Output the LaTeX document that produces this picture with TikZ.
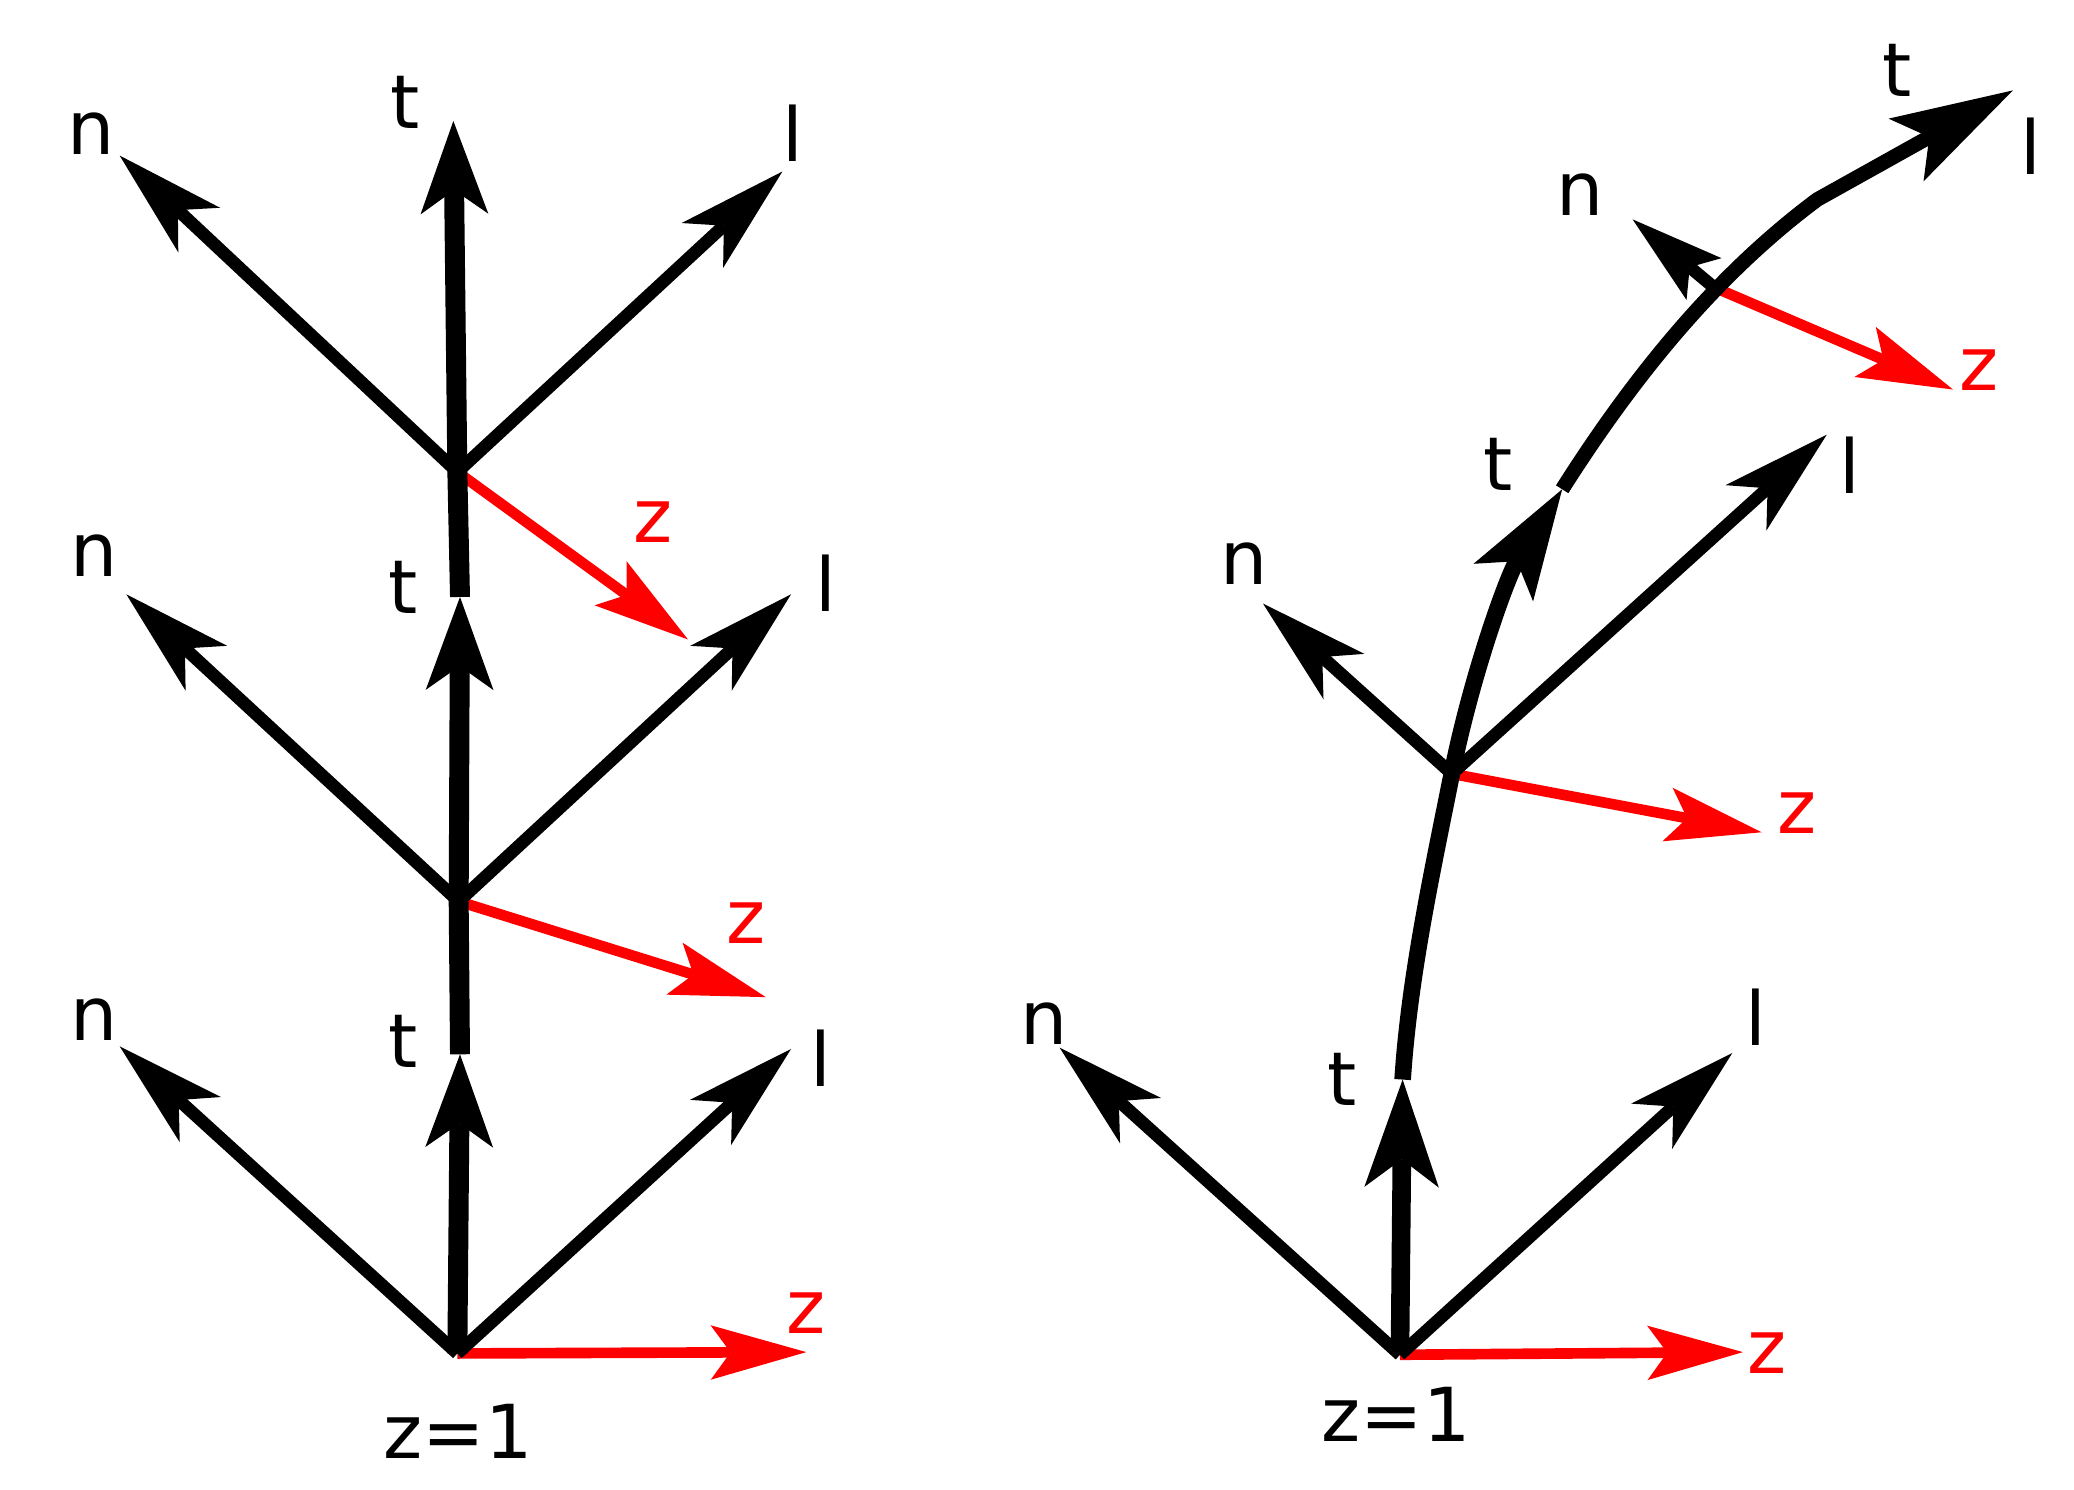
\documentclass[tikz,border=0pt]{standalone}
\usepackage{fontspec}
\setmainfont{DejaVu Sans}
\usetikzlibrary{arrows.meta}
\begin{document}
\begin{tikzpicture}[x=1pt,y=-1pt,
  thinvec/.style={line width=9.5pt, -{Stealth[length=82pt,width=46pt,inset=22pt,line width=0pt]}},
  smallvec/.style={line width=9.5pt, -{Stealth[length=70pt,width=41pt,inset=14pt,line width=0pt]}},
  redvec/.style={red, line width=8pt, -{Stealth[length=72pt,width=41pt,inset=15pt,line width=0pt]}},
  thickleft/.style={line width=15pt},
  tarrow/.style={-{Stealth[length=70pt,width=51pt,inset=18pt,line width=0pt]}},
  lbl/.style={font=\fontsize{56}{60}\selectfont, inner sep=0pt},
  redlbl/.style={lbl, text=red}]
\useasboundingbox (0,0) rectangle (1560,1120);

% ---------- left panel ----------
\coordinate (O1) at (344,1018);
\coordinate (O2) at (345,678);
\coordinate (O3) at (344,355);
\coordinate (T1) at (346,793);
\coordinate (T2) at (346,449);
\coordinate (T3) at (341,91);
\coordinate (N1) at (90,787);
\coordinate (N2) at (95,447);
\coordinate (N3) at (90,117);
\coordinate (L1) at (595,789);
\coordinate (L2) at (595,447);
\coordinate (L3) at (588.5,129);
\coordinate (Z1) at (606.5,1017);
\coordinate (Z2) at (576,750);
\coordinate (Z3) at (517.5,481);

\draw[redvec] (O1) -- (Z1);
\draw[redvec] (O2) -- (Z2);
\draw[redvec] (O3) -- (Z3);
\draw[thinvec] (O1) -- (N1);
\draw[thinvec] (O2) -- (N2);
\draw[thinvec] (O3) -- (N3);
\draw[thinvec] (O1) -- (L1);
\draw[thinvec] (O2) -- (L2);
\draw[thinvec] (O3) -- (L3);
\draw[thickleft] (T1) -- (O2) (T2) -- (O3);
\draw[thickleft,tarrow] (O1) -- (T1);
\draw[thickleft,tarrow] (O2) -- (T2);
\draw[thickleft,tarrow] (O3) -- (T3);

\node[lbl] (ln3) at (68.75,100.5) {n};
\node[lbl] (lt3) at (304.5,77) {t};
\node[lbl] (ll3) at (596,100.5) {l};
\node[redlbl] (lz3) at (491,393) {z};
\node[lbl] (ln2) at (70.5,418) {n};
\node[lbl] (lt2) at (303,442) {t};
\node[lbl] (ll2) at (621.5,439) {l};
\node[redlbl] (lz2) at (561.5,694) {z};
\node[lbl] (ln1) at (70.5,767) {n};
\node[lbl] (lt1) at (303,783) {t};
\node[lbl] (ll1) at (617.5,796) {l};
\node[redlbl] (lz1) at (606.5,987.5) {z};
\node[lbl] (lzeq) at (344.5,1076.6) {z=1};

% ---------- right panel ----------
\coordinate (R1) at (1053,1019);
\coordinate (R2) at (1092,582);
\coordinate (R3) at (1289,216);
\coordinate (RT1) at (1055,812);
\coordinate (RT2) at (1175,368);
\coordinate (RT3) at (1514,68);
\coordinate (K) at (1367,150);
\coordinate (RN1) at (797,788);
\coordinate (RN2) at (950,454);
\coordinate (RN3) at (1228,165);
\coordinate (RL1) at (1303,792);
\coordinate (RL2) at (1374,327);
\coordinate (RZ1) at (1311,1017);
\coordinate (RZ2) at (1325,626);
\coordinate (RZ3) at (1469,293);

\draw[redvec] (R1) -- (RZ1);
\draw[redvec] (R2) -- (RZ2);
\draw[redvec] (R3) -- (RZ3);
\draw[thinvec] (R1) -- (RN1);
\draw[thinvec] (R2) -- (RN2);
\draw[smallvec] (R3) -- (RN3);
\draw[thinvec] (R1) -- (RL1);
\draw[thinvec] (R2) -- (RL2);

\draw[line width=14pt, -{Stealth[length=81pt,width=56pt,inset=21pt,line width=0pt]}] (R1) -- (RT1);
\draw[line width=12.5pt, -{Stealth[length=83pt,width=53pt,inset=19pt,line width=0pt]}]
  (RT1) .. controls (1060,735) and (1077,657) .. (R2)
        .. controls (1107,507) and (1134,433) .. (RT2);
\draw[line width=11pt, -{Stealth[length=92pt,width=54pt,inset=20pt,line width=0pt]}]
  (RT2) .. controls (1227,286) and (1289,208) .. (K) -- (RT3);

\node[lbl] (rn1) at (785,770) {n};
\node[lbl] (rt1) at (1009.5,811.6) {t};
\node[lbl] (rl1) at (1320.5,765) {l};
\node[redlbl] (rz1) at (1329,1017.6) {z};
\node[lbl] (rzeq) at (1050,1063.5) {z=1};
\node[lbl] (rn2) at (935.5,424) {n};
\node[lbl] (rt2) at (1127,349) {t};
\node[lbl] (rl2) at (1391.5,350) {l};
\node[redlbl] (rz2) at (1352,611.5) {z};
\node[lbl] (rn3) at (1188.4,146.7) {n};
\node[lbl] (rt3) at (1427,53) {t};
\node[lbl] (rl3) at (1527.4,110.3) {l};
\node[redlbl] (rz3) at (1488.5,278.3) {z};
\end{tikzpicture}
\end{document}
